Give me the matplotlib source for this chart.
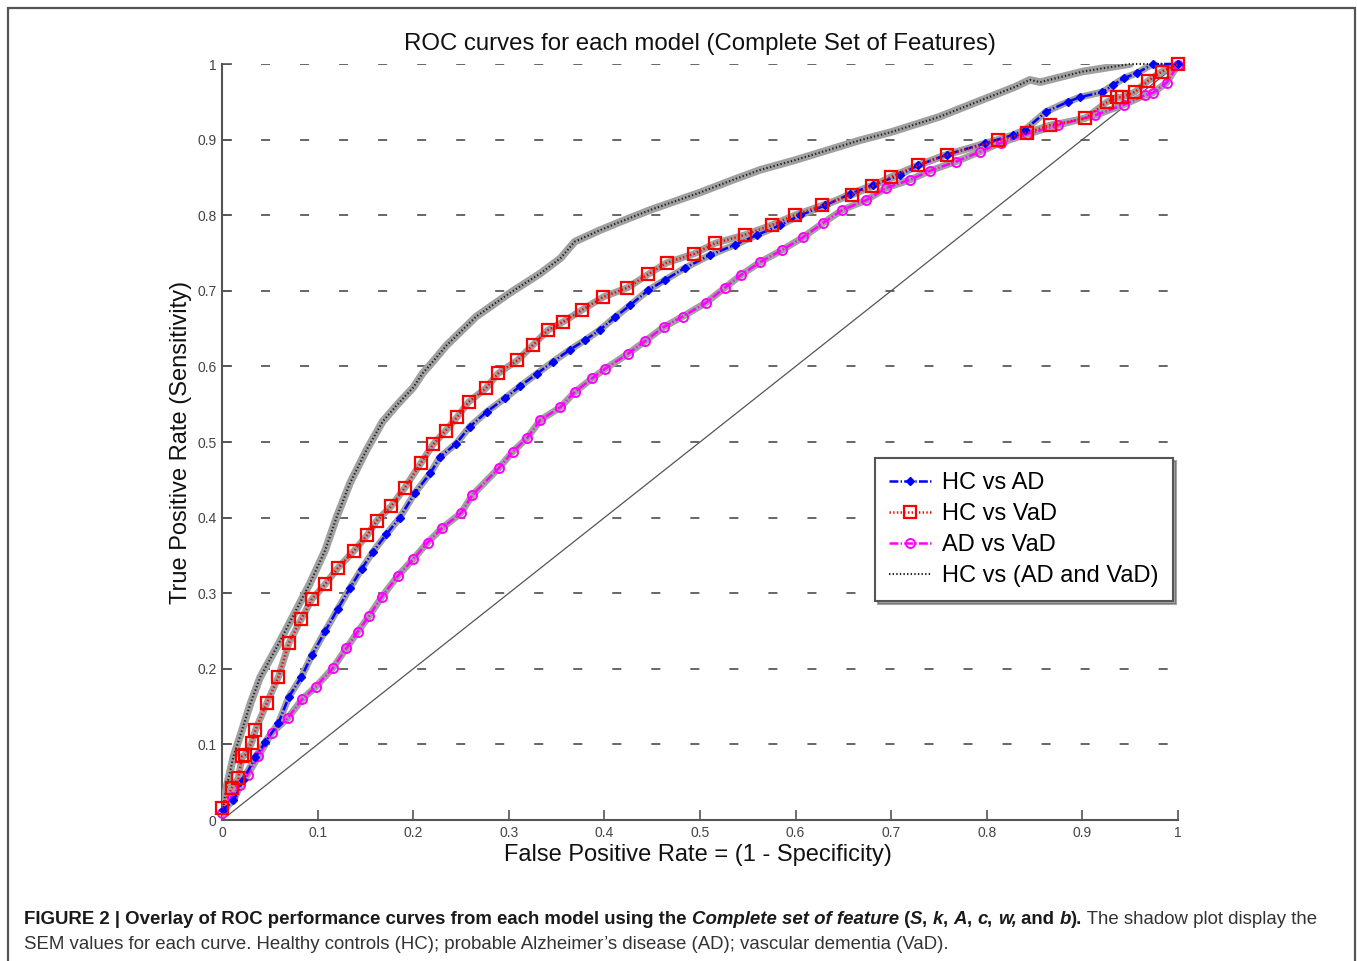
import numpy as np
import matplotlib
matplotlib.use("Agg")
import matplotlib.pyplot as plt
from matplotlib.patches import Rectangle

plt.rcParams['font.family'] = ['Liberation Sans', 'DejaVu Sans']
plt.rcParams['lines.scale_dashes'] = False

# --- data (FPR, TPR) ---
hc_ad_x = [0.001, 0.012, 0.022, 0.035, 0.045, 0.059, 0.070, 0.083, 0.094, 0.108, 0.121, 0.134, 0.146,
           0.158, 0.172, 0.186, 0.202, 0.218, 0.228, 0.245, 0.259, 0.277, 0.296, 0.312, 0.329, 0.346,
           0.364, 0.380, 0.395, 0.411, 0.427, 0.446, 0.463, 0.484, 0.510, 0.537, 0.560, 0.584, 0.605,
           0.631, 0.657, 0.681, 0.709, 0.728, 0.758, 0.798, 0.827, 0.840, 0.862, 0.885, 0.897, 0.921,
           0.932, 0.943, 0.957, 0.974, 1.000]
hc_ad_y = [0.013, 0.026, 0.053, 0.083, 0.103, 0.128, 0.163, 0.189, 0.218, 0.250, 0.279, 0.307, 0.332,
           0.355, 0.378, 0.400, 0.433, 0.459, 0.480, 0.498, 0.520, 0.540, 0.558, 0.574, 0.590, 0.606,
           0.622, 0.635, 0.648, 0.665, 0.681, 0.701, 0.714, 0.730, 0.747, 0.761, 0.774, 0.787, 0.800,
           0.813, 0.828, 0.840, 0.853, 0.866, 0.880, 0.895, 0.906, 0.913, 0.937, 0.950, 0.956, 0.963,
           0.972, 0.981, 0.988, 1.000, 1.000]

hc_vad_x = [0.000, 0.010, 0.017, 0.021, 0.024, 0.031, 0.035, 0.047, 0.059, 0.070, 0.083, 0.094, 0.108,
            0.121, 0.138, 0.152, 0.162, 0.177, 0.191, 0.208, 0.221, 0.234, 0.246, 0.258, 0.276, 0.289,
            0.309, 0.325, 0.341, 0.357, 0.377, 0.399, 0.424, 0.446, 0.465, 0.494, 0.516, 0.547, 0.575,
            0.599, 0.628, 0.659, 0.680, 0.700, 0.728, 0.758, 0.812, 0.842, 0.866, 0.903, 0.926, 0.936,
            0.941, 0.955, 0.969, 0.983, 1.000]
hc_vad_y = [0.016, 0.042, 0.055, 0.084, 0.086, 0.102, 0.119, 0.155, 0.189, 0.234, 0.266, 0.292, 0.312,
            0.333, 0.356, 0.377, 0.396, 0.415, 0.439, 0.472, 0.497, 0.515, 0.533, 0.553, 0.571, 0.591,
            0.608, 0.628, 0.648, 0.659, 0.675, 0.692, 0.704, 0.722, 0.737, 0.749, 0.763, 0.774, 0.787,
            0.800, 0.813, 0.827, 0.838, 0.851, 0.866, 0.880, 0.899, 0.909, 0.919, 0.928, 0.950, 0.956,
            0.956, 0.963, 0.978, 0.990, 1.000]

ad_vad_x = [0.000, 0.010, 0.019, 0.027, 0.038, 0.052, 0.069, 0.084, 0.098, 0.116, 0.130, 0.142, 0.154,
            0.167, 0.184, 0.200, 0.215, 0.230, 0.250, 0.262, 0.290, 0.304, 0.319, 0.333, 0.354, 0.369,
            0.387, 0.401, 0.425, 0.442, 0.462, 0.482, 0.506, 0.526, 0.543, 0.563, 0.586, 0.608, 0.629,
            0.649, 0.674, 0.695, 0.720, 0.741, 0.768, 0.793, 0.815, 0.842, 0.874, 0.913, 0.943, 0.966,
            0.974, 0.988, 1.000]
ad_vad_y = [0.009, 0.031, 0.046, 0.060, 0.084, 0.115, 0.135, 0.160, 0.176, 0.201, 0.227, 0.249, 0.270,
            0.295, 0.323, 0.345, 0.367, 0.386, 0.406, 0.430, 0.466, 0.487, 0.505, 0.529, 0.546, 0.566,
            0.584, 0.597, 0.617, 0.633, 0.652, 0.666, 0.684, 0.704, 0.721, 0.738, 0.754, 0.771, 0.790,
            0.807, 0.820, 0.836, 0.847, 0.859, 0.871, 0.884, 0.896, 0.907, 0.919, 0.932, 0.946, 0.959,
            0.962, 0.975, 0.999]

hc_all_x = [0.000, 0.005, 0.012, 0.022, 0.030, 0.040, 0.050, 0.060, 0.074, 0.092, 0.108, 0.120, 0.134,
            0.151, 0.168, 0.183, 0.200, 0.210, 0.219, 0.235, 0.266, 0.301, 0.333, 0.354, 0.369, 0.395,
            0.416, 0.448, 0.500, 0.535, 0.563, 0.600, 0.667, 0.700, 0.750, 0.790, 0.830, 0.845, 0.856,
            0.900, 0.950, 1.000]
hc_all_y = [0.010, 0.045, 0.084, 0.123, 0.155, 0.189, 0.212, 0.235, 0.269, 0.313, 0.357, 0.401, 0.446,
            0.489, 0.527, 0.549, 0.572, 0.591, 0.604, 0.628, 0.666, 0.697, 0.723, 0.743, 0.765, 0.780,
            0.791, 0.807, 0.830, 0.847, 0.860, 0.873, 0.899, 0.910, 0.930, 0.950, 0.970, 0.979, 0.976,
            0.990, 1.000, 1.000]

ticks = [0, 0.1, 0.2, 0.3, 0.4, 0.5, 0.6, 0.7, 0.8, 0.9, 1]
tick_labels = ['0', '0.1', '0.2', '0.3', '0.4', '0.5', '0.6', '0.7', '0.8', '0.9', '1']

fig = plt.figure(figsize=(13.57, 9.61), dpi=100)
ax = fig.add_axes([222 / 1357, 1 - 820 / 961, 956 / 1357, 756 / 961])

# dashed horizontal guide lines
for t in ticks[1:]:
    ax.axhline(t, color='#666666', lw=1.4, linestyle=(0, (6.5, 21.6)), zorder=1)

# chance diagonal
ax.plot([0, 1], [0, 1], color='#555555', lw=0.9, zorder=2)

shade = '#a0a0a0'
# SEM shadows
ax.plot(hc_all_x[:-1], hc_all_y[:-1], color=shade, lw=5.5, solid_capstyle='round', zorder=3)
ax.plot(hc_ad_x, hc_ad_y, color=shade, lw=5, zorder=3)
ax.plot(hc_vad_x, hc_vad_y, color=shade, lw=5, zorder=3)
ax.plot(ad_vad_x, ad_vad_y, color=shade, lw=5, zorder=3)

ax.plot(hc_ad_x, hc_ad_y, color='#0000ff', lw=1.8, linestyle='-.', marker='D', ms=4.3,
        mfc='#0000ff', mec='#0000ff', label='HC vs AD', zorder=5, clip_on=False)
ax.plot(hc_vad_x, hc_vad_y, color='#ff0000', lw=1.8, linestyle=':', marker='s', ms=8.5,
        mfc='none', mec='#ff0000', mew=1.6, label='HC vs VaD', zorder=5, clip_on=False)
ax.plot(ad_vad_x, ad_vad_y, color='#ff00ff', lw=1.8, linestyle='-.', marker='o', ms=6.5,
        mfc='none', mec='#ff00ff', mew=1.4, label='AD vs VaD', zorder=4, clip_on=False)
ax.plot(hc_all_x, hc_all_y, color='#222222', lw=1.5, linestyle=(0, (1, 1.6)),
        label='HC vs (AD and VaD)', zorder=4, clip_on=False)

ax.set_xlim(0, 1)
ax.set_ylim(0, 1)
ax.set_xticks(ticks)
ax.set_xticklabels(tick_labels)
ax.set_yticks(ticks)
ax.set_yticklabels(tick_labels)
ax.tick_params(direction='in', length=7.5, width=1.2, color='#555555', labelcolor='#444444',
               labelsize=10, pad=4)
for s in ['top', 'right']:
    ax.spines[s].set_visible(False)
for s in ['left', 'bottom']:
    ax.spines[s].set_color('#555555')
    ax.spines[s].set_linewidth(1.5)

ax.set_xlabel('False Positive Rate = (1 - Specificity)', fontsize=17, color='#111111')
ax.xaxis.set_label_coords(0.498, -0.032)
ax.set_ylabel('True Positive Rate (Sensitivity)', fontsize=17, color='#111111')
ax.yaxis.set_label_coords(-0.031, 0.5)

fig.text(700 / 1357, 1 - 44 / 961, 'ROC curves for each model (Complete Set of Features)',
         fontsize=17.3, ha='center', va='center', color='#111111')

leg = ax.legend(loc='upper left', bbox_to_anchor=(0.683, 0.479), borderaxespad=0, fontsize=17,
                handlelength=1.8, borderpad=0.6, labelspacing=0.38, handletextpad=0.45, fancybox=False,
                shadow=True, framealpha=1, edgecolor='#555555')
leg.get_frame().set_linewidth(1.5)

# outer frame of the figure panel
fig.patches.append(Rectangle((8 / 1357, -0.05), 1347 / 1357, 1.05 - 8 / 961, transform=fig.transFigure,
                             fill=False, edgecolor='#555555', lw=1.6))

# caption, built from runs of differently styled text
renderer = fig.canvas.get_renderer()


def put_runs(runs, x, y):
    for s, weight, style, col in runs:
        t = fig.text(x, y, s, fontsize=13.4, fontweight=weight, fontstyle=style, color=col,
                     va='baseline', ha='left')
        x += t.get_window_extent(renderer).width / fig.bbox.width


dark = '#1a1a1a'
reg = '#333333'
line1 = [
    ('FIGURE 2 | Overlay of ROC performance curves from each model using the ', 'bold', 'normal', dark),
    ('Complete set of feature', 'bold', 'italic', dark),
    (' (', 'bold', 'normal', dark),
    ('S', 'bold', 'italic', dark), (', ', 'bold', 'normal', dark),
    ('k', 'bold', 'italic', dark), (', ', 'bold', 'normal', dark),
    ('A', 'bold', 'italic', dark), (', ', 'bold', 'normal', dark),
    ('c', 'bold', 'italic', dark), (', ', 'bold', 'normal', dark),
    ('w,', 'bold', 'italic', dark), (' and ', 'bold', 'normal', dark),
    ('b', 'bold', 'italic', dark), (').', 'bold', 'normal', dark),
    (' The shadow plot display the', 'normal', 'normal', reg),
]
put_runs(line1, 24 / 1357, 1 - 924 / 961)
put_runs([('SEM values for each curve. Healthy controls (HC); probable Alzheimer\u2019s disease (AD); '
           'vascular dementia (VaD).', 'normal', 'normal', reg)], 24 / 1357, 1 - 949 / 961)

fig.savefig('out.png', dpi=100)
